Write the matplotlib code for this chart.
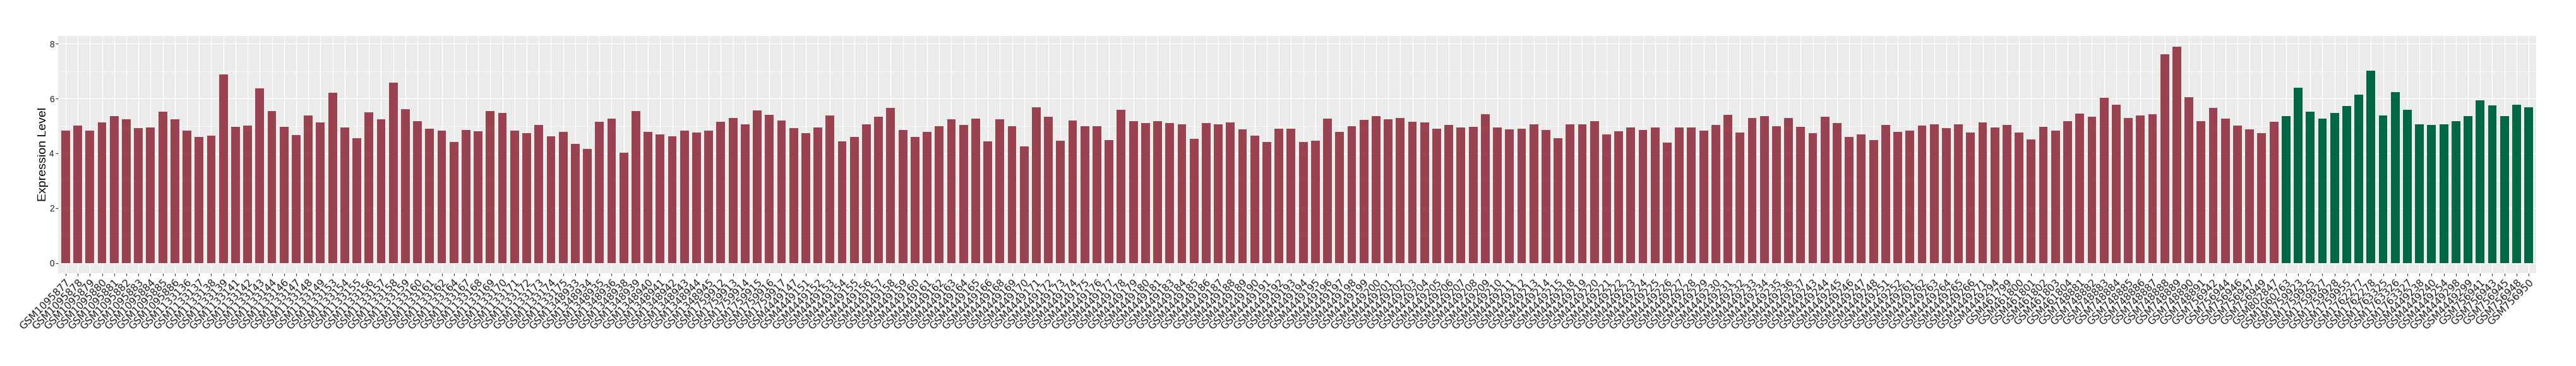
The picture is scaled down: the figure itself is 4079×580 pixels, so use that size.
import matplotlib
matplotlib.use("Agg")
import matplotlib.pyplot as plt
from matplotlib.ticker import MultipleLocator

group_a_samples = [
    "GSM1095877", "GSM1095878", "GSM1095879", "GSM1095880", "GSM1095881", "GSM1095882",
    "GSM1095883", "GSM1095884", "GSM1095885", "GSM1095886",
    "GSM1133136", "GSM1133137", "GSM1133138", "GSM1133139", "GSM1133141", "GSM1133142",
    "GSM1133143", "GSM1133144", "GSM1133146", "GSM1133147", "GSM1133148", "GSM1133149",
    "GSM1133153", "GSM1133154", "GSM1133155", "GSM1133156", "GSM1133157", "GSM1133158",
    "GSM1133159", "GSM1133160", "GSM1133161", "GSM1133162", "GSM1133164", "GSM1133167",
    "GSM1133168", "GSM1133169", "GSM1133170", "GSM1133171", "GSM1133172", "GSM1133173",
    "GSM1133174", "GSM1133175",
    "GSM1348933", "GSM1348934", "GSM1348935", "GSM1348936", "GSM1348938", "GSM1348939",
    "GSM1348940", "GSM1348941", "GSM1348942", "GSM1348943", "GSM1348944", "GSM1348945",
    "GSM1759912", "GSM1759913", "GSM1759914", "GSM1759915", "GSM1759916", "GSM1759917",
    "GSM4449147", "GSM4449151", "GSM4449152", "GSM4449153", "GSM4449154", "GSM4449155",
    "GSM4449156", "GSM4449157", "GSM4449158", "GSM4449159", "GSM4449160", "GSM4449161",
    "GSM4449162", "GSM4449163", "GSM4449164", "GSM4449165", "GSM4449166", "GSM4449168",
    "GSM4449169", "GSM4449170", "GSM4449171", "GSM4449172", "GSM4449173", "GSM4449174",
    "GSM4449175", "GSM4449176", "GSM4449177", "GSM4449178", "GSM4449179", "GSM4449180",
    "GSM4449181", "GSM4449183", "GSM4449184", "GSM4449185", "GSM4449186", "GSM4449187",
    "GSM4449188", "GSM4449189", "GSM4449190", "GSM4449191", "GSM4449192", "GSM4449193",
    "GSM4449194", "GSM4449195", "GSM4449196", "GSM4449197", "GSM4449198", "GSM4449199",
    "GSM4449200", "GSM4449201", "GSM4449202", "GSM4449203", "GSM4449204", "GSM4449205",
    "GSM4449206", "GSM4449207", "GSM4449208", "GSM4449209", "GSM4449210", "GSM4449211",
    "GSM4449212", "GSM4449213", "GSM4449214", "GSM4449215", "GSM4449218", "GSM4449219",
    "GSM4449220", "GSM4449221", "GSM4449222", "GSM4449223", "GSM4449224", "GSM4449225",
    "GSM4449226", "GSM4449227", "GSM4449228", "GSM4449229", "GSM4449230", "GSM4449231",
    "GSM4449232", "GSM4449233", "GSM4449234", "GSM4449235", "GSM4449236", "GSM4449237",
    "GSM4449243", "GSM4449244", "GSM4449245", "GSM4449246", "GSM4449247", "GSM4449248",
    "GSM4449251", "GSM4449252", "GSM4449261", "GSM4449262", "GSM4449263", "GSM4449264",
    "GSM4449265", "GSM4449266", "GSM4449271", "GSM4449294",
    "GSM461799", "GSM461800", "GSM461801", "GSM461802", "GSM461803", "GSM461804",
    "GSM748881", "GSM748882", "GSM748883", "GSM748884", "GSM748885", "GSM748886",
    "GSM748887", "GSM748888", "GSM748889", "GSM748890", "GSM748891",
    "GSM756942", "GSM756944", "GSM756946", "GSM756947", "GSM756949",
    "GSM802847",
]

group_a_values = [
    4.82, 5.01, 4.82, 5.13, 5.36, 5.24, 4.91, 4.94, 5.51, 5.24,
    4.82, 4.59, 4.64, 6.87, 4.96, 5.01, 6.37, 5.54, 4.96, 4.66, 5.37, 5.13,
    6.21, 4.94, 4.55, 5.49, 5.24, 6.58, 5.60, 5.17, 4.89, 4.82, 4.41, 4.84,
    4.80, 5.54, 5.47, 4.82, 4.73, 5.03, 4.61, 4.78,
    4.34, 4.15, 5.14, 5.26, 4.02, 5.54, 4.78, 4.68, 4.61, 4.82, 4.75, 4.82,
    5.14, 5.30, 5.05, 5.56, 5.40, 5.19,
    4.91, 4.73, 4.94, 5.37, 4.43, 4.59, 5.05, 5.33, 5.65, 4.84, 4.59, 4.78,
    4.98, 5.24, 5.03, 5.26, 4.43, 5.24, 4.98, 4.25, 5.67, 5.33, 4.45, 5.19,
    4.98, 4.98, 4.48, 5.59, 5.17, 5.10, 5.17, 5.10, 5.05, 4.52, 5.10, 5.07,
    5.13, 4.87, 4.64, 4.41, 4.89, 4.89, 4.41, 4.45, 5.26, 4.78, 4.98, 5.21,
    5.36, 5.24, 5.30, 5.14, 5.13, 4.89, 5.03, 4.94, 4.96, 5.42, 4.94, 4.87,
    4.89, 5.05, 4.84, 4.55, 5.05, 5.05, 5.17, 4.68, 4.80, 4.94, 4.84, 4.94,
    4.38, 4.94, 4.94, 4.82, 5.03, 5.40, 4.75, 5.28, 5.36, 4.98, 5.28, 4.96,
    4.73, 5.33, 5.10, 4.59, 4.68, 4.48, 5.03, 4.78, 4.82, 5.01, 5.07, 4.91,
    5.05, 4.75, 5.13, 4.94,
    5.03, 4.75, 4.50, 4.96, 4.82, 5.17,
    5.44, 5.33, 6.02, 5.77, 5.28, 5.37, 5.42, 7.62, 7.89, 6.06, 5.17,
    5.65, 5.26, 5.01, 4.87, 4.73,
    5.14,
]

group_b_samples = [
    "GSM1060763", "GSM1759923", "GSM1759925", "GSM1759927", "GSM1759928", "GSM1759955",
    "GSM1762277", "GSM1762278", "GSM1763325", "GSM1763326", "GSM1763327", "GSM4449238",
    "GSM4449240", "GSM4449254", "GSM4449298", "GSM4449299", "GSM756941", "GSM756943",
    "GSM756945", "GSM756948", "GSM756950",
]

group_b_values = [
    5.36, 6.39, 5.51, 5.26, 5.47, 5.72, 6.13, 7.01, 5.37, 6.23, 5.59, 5.05,
    5.03, 5.05, 5.17, 5.36, 5.93, 5.75, 5.36, 5.77, 5.67,
]

color_a = "#9B4251"
color_b = "#006845"

samples = group_a_samples + group_b_samples
values = group_a_values + group_b_values
colors = [color_a] * len(group_a_samples) + [color_b] * len(group_b_samples)

W, H, DPI = 4080, 580, 100
fig = plt.figure(figsize=(W / DPI, H / DPI), dpi=DPI)
ax = fig.add_axes([92 / W, 1 - 432.7 / H, (4016 - 92) / W, (432.7 - 56.7) / H])
ax.set_facecolor("#EBEBEB")
for s in ax.spines.values():
    s.set_visible(False)

x = list(range(len(samples)))
ax.bar(x, values, width=0.72, color=colors, zorder=3)

n = len(samples)
ax.set_xlim(-0.62, n - 1 + 0.62)
ax.set_ylim(-0.37, 8.29)
ax.yaxis.set_major_locator(MultipleLocator(2))
ax.yaxis.set_minor_locator(MultipleLocator(1))
ax.grid(which="major", axis="both", color="white", linewidth=1.05, zorder=1)
ax.grid(which="minor", axis="y", color="white", linewidth=0.5, zorder=1)
ax.set_axisbelow(True)

ax.set_xticks(x)
ax.set_xticklabels(samples, rotation=45, ha="right", va="top",
                   rotation_mode="anchor", fontsize=11.3,
                   family="DejaVu Sans", color="#1A1A1A")
ax.tick_params(axis="x", which="major", length=3, width=0.8, color="#333333", pad=2)
ax.tick_params(axis="y", which="major", length=3, width=0.8, color="#333333", pad=1.5,
               labelsize=9.8, labelcolor="#1A1A1A")
ax.tick_params(axis="y", which="minor", length=0)
for lab in ax.get_yticklabels():
    lab.set_family("Liberation Sans")

ax.set_ylabel("Expression Level", fontsize=14, family="Liberation Sans",
              color="black", labelpad=1)

fig.savefig("out.png", dpi=DPI, facecolor="white")
